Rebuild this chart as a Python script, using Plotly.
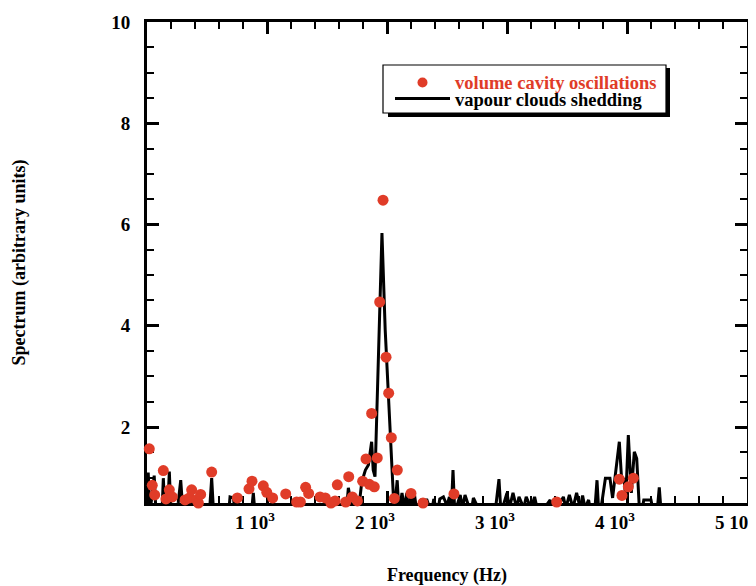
import plotly.graph_objects as go

# --- data -------------------------------------------------------------
# volume cavity oscillations (red dots)
cavity_freq = [19, 44, 64, 136, 158, 186, 211, 281, 317, 353, 372, 414, 428, 447,
               539, 753, 850, 875, 969, 998, 1047, 1156, 1247, 1278, 1322, 1347,
               1442, 1486, 1533, 1567, 1586, 1656, 1681, 1711, 1753, 1797, 1825,
               1853, 1872, 1894, 1919, 1939, 1967, 1992, 2014, 2036, 2061, 2086,
               2200, 2300, 2558, 3339, 3414, 3936, 3958, 4011, 4053, 4264]
cavity_val = [1.57, 0.85, 0.66, 1.14, 0.58, 0.76, 0.62, 0.46, 0.56, 0.60, 0.76, 0.56, 0.50, 0.67,
              1.11, 0.60, 0.78, 0.93, 0.84, 0.71, 0.60, 0.68, 0.52, 0.52, 0.81, 0.69,
              0.62, 0.60, 0.50, 0.54, 0.86, 0.52, 1.02, 0.62, 0.54, 0.93, 1.37,
              0.87, 2.27, 0.82, 1.39, 4.47, 6.48, 3.38, 2.67, 1.79, 0.59, 1.15,
              0.69, 0.50, 0.68, 0.49, 0.52, 0.97, 0.65, 0.82, 0.99, 0.49]

# vapour clouds shedding (black line)
shed_freq = [0, 10, 25, 45, 60, 75, 100, 125, 136, 150, 175, 186, 200, 240, 260, 281, 300,
             350, 372, 390, 420, 440, 460, 520, 539, 555, 680, 692, 720, 735, 870, 886,
             900, 1270, 1289, 1300, 1570, 1581, 1595, 1660, 1678, 1700, 1720, 1760,
             1790, 1820, 1845, 1872, 1885, 1900, 1958, 1985, 2020, 2045, 2060, 2085,
             2100, 2125, 2145, 2165, 2180, 2200, 2215, 2230, 2250, 2290, 2310, 2330,
             2370, 2390, 2420, 2440, 2470, 2500, 2520, 2535, 2550, 2565, 2610, 2630,
             2650, 2700, 2720, 2760, 2780, 2900, 2933, 2950, 3000, 3020, 3050, 3080,
             3100, 3140, 3160, 3200, 3230, 3260, 3280, 3360, 3375, 3390, 3470, 3490,
             3520, 3550, 3580, 3610, 3630, 3650, 3680, 3700, 3730, 3750, 3765, 3790,
             3820, 3858, 3880, 3900, 3936, 3955, 3975, 3990, 4011, 4036, 4061, 4081,
             4105, 4120, 4140, 4200, 4220, 4250, 4269, 4285, 4400, 5000]
shed_val = [0.30, 1.10, 0.30, 0.80, 1.04, 0.30, 0.40, 0.30, 0.99, 0.30, 0.50, 1.12, 0.30, 0.30, 0.50, 0.95, 0.30,
            0.30, 0.65, 0.30, 0.30, 0.55, 0.30, 0.30, 0.99, 0.30, 0.30, 0.62, 0.60, 0.30, 0.30, 0.70,
            0.30, 0.30, 0.60, 0.30, 0.30, 0.60, 0.30, 0.30, 0.80, 0.50, 0.30, 0.30,
            0.92, 1.15, 1.25, 1.71, 1.15, 1.02, 5.83, 3.92, 2.27, 0.89, 0.30, 0.95,
            0.30, 0.70, 0.40, 0.70, 0.30, 0.65, 0.40, 0.65, 0.30, 0.58, 0.40, 0.58,
            0.30, 0.58, 0.30, 0.58, 0.62, 0.45, 0.62, 0.30, 1.15, 0.30, 0.66, 0.40,
            0.66, 0.30, 0.60, 0.40, 0.30, 0.30, 0.97, 0.30, 0.70, 0.40, 0.70, 0.40,
            0.62, 0.40, 0.62, 0.40, 0.62, 0.30, 0.30, 0.56, 0.30, 0.30, 0.62, 0.40,
            0.66, 0.40, 0.70, 0.40, 0.65, 0.40, 0.56, 0.30, 0.30, 0.95, 0.30, 0.50,
            0.99, 0.99, 0.60, 1.00, 1.71, 0.97, 0.97, 0.60, 1.84, 0.70, 1.51, 1.38,
            0.30, 0.30, 0.56, 0.56, 0.30, 0.30, 0.81, 0.30, 0.30, 0.30]

series_names = ["volume cavity oscillations", "vapour clouds shedding"]

x_tickvals = [1000, 2000, 3000, 4000, 5000]
x_ticktext = ["1 10<sup>3</sup>", "2 10<sup>3</sup>", "3 10<sup>3</sup>",
              "4 10<sup>3</sup>", "5 10<sup>3</sup>"]
y_tickvals = [2, 4, 6, 8, 10]
y_ticktext = ["2", "4", "6", "8", "10"]

RED = "#E03C28"
FONT = "Liberation Serif"

# page body has an 8px margin: figure drawn at (8, 8) in the window
OFF = 8
W, H = 756, 586 - OFF
PL, PR, PT, PB = 147, 747, 22, 503          # plot area in window pixels


def px(x):
    return (x - PL) / (PR - PL)


def py(y):
    return (PB - y) / (PB - PT)


fig = go.Figure()
fig.add_trace(go.Scatter(
    x=shed_freq, y=shed_val, mode="lines",
    line=dict(color="black", width=3),
    name=series_names[1], showlegend=False))
fig.add_trace(go.Scatter(
    x=cavity_freq, y=cavity_val, mode="markers",
    marker=dict(color=RED, size=11),
    cliponaxis=False,
    name=series_names[0], showlegend=False))

axis_common = dict(
    showline=True, linecolor="black", linewidth=3, mirror="allticks",
    ticks="inside", tickcolor="black", tickwidth=2.5, ticklen=12,
    showgrid=False, zeroline=False, layer="below traces", automargin=False,
    tickfont=dict(family=FONT, size=19, color="black", weight="bold"),
)

fig.update_xaxes(
    range=[0, 5000], tickvals=x_tickvals, ticktext=x_ticktext,
    minor=dict(ticks="inside", dtick=200, ticklen=7, tickwidth=2, tickcolor="black"),
    ticklabelshift=-12, ticklabelstandoff=0,
    title=dict(text="Frequency (Hz)", standoff=46,
               font=dict(family=FONT, size=18, color="black", weight="bold")),
    **axis_common)
fig.update_yaxes(
    range=[0.5, 10], tickvals=y_tickvals, ticktext=y_ticktext,
    minor=dict(ticks="inside", dtick=0.5, ticklen=7, tickwidth=2, tickcolor="black"),
    ticklabelstandoff=10,
    title=dict(text="Spectrum (arbitrary units)", standoff=81,
               font=dict(family=FONT, size=18, color="black", weight="bold")),
    **axis_common)

# --- legend box (drawn in paper coordinates) ----------------------------
shapes = [
    dict(type="rect", x0=px(388), x1=px(670), y0=py(117), y1=py(68),
         fillcolor="black", line=dict(width=0)),
    dict(type="rect", x0=px(383), x1=px(666), y0=py(113), y1=py(65),
         fillcolor="white", line=dict(color="black", width=1.2)),
    dict(type="circle", x0=px(417.5), x1=px(427.5), y0=py(87.5), y1=py(77.5),
         fillcolor=RED, line=dict(width=0)),
    dict(type="line", x0=px(395), x1=px(450), y0=py(98.5), y1=py(98.5),
         line=dict(color="black", width=3)),
]
for s in shapes:
    s.update(xref="paper", yref="paper", layer="above")
    fig.add_shape(**s)

fig.add_annotation(x=px(453), y=py(82.5), xref="paper", yref="paper",
                   xanchor="left", yanchor="middle", showarrow=False,
                   text=series_names[0],
                   font=dict(family=FONT, size=18.5, color=RED, weight="bold"))
fig.add_annotation(x=px(453), y=py(99.5), xref="paper", yref="paper",
                   xanchor="left", yanchor="middle", showarrow=False,
                   text=series_names[1],
                   font=dict(family=FONT, size=18.5, color="black", weight="bold"))

fig.update_layout(
    width=W, height=H,
    margin=dict(l=PL - OFF, r=W - (PR - OFF), t=PT - OFF, b=H - (PB - OFF)),
    paper_bgcolor="white", plot_bgcolor="white",
    showlegend=False,
)

fig.write_html("out.html")
